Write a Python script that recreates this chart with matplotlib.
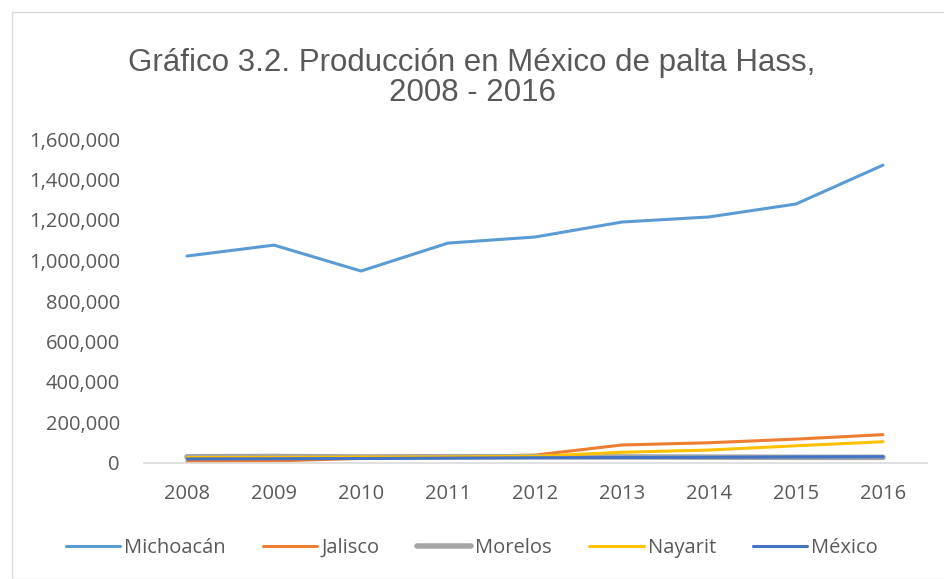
import matplotlib
matplotlib.use("Agg")
import matplotlib.pyplot as plt
from matplotlib.ticker import FuncFormatter
from matplotlib.patches import Rectangle

years = ["2008", "2009", "2010", "2011", "2012", "2013", "2014", "2015", "2016"]
michoacan = [1022000, 1076000, 948000, 1086000, 1116000, 1190000, 1215000, 1279000, 1471000]
jalisco = [7000, 10000, 23000, 31000, 39000, 89000, 100000, 118000, 140000]
morelos = [31000, 32000, 30000, 31000, 31000, 30000, 29000, 28000, 28000]
nayarit = [27000, 28000, 29000, 30000, 33000, 53000, 64000, 85000, 105000]
mexico = [20000, 21000, 22000, 24000, 26000, 27000, 28000, 30000, 31000]

series = [
    ("Michoacán", michoacan, "#5B9BD5", 2.2),
    ("Jalisco", jalisco, "#ED7D31", 2.2),
    ("Morelos", morelos, "#A5A5A5", 4.0),
    ("Nayarit", nayarit, "#FFC000", 2.2),
    ("México", mexico, "#4472C4", 2.2),
]

fig = plt.figure(figsize=(9.44, 5.79), dpi=100)
fig.patches.append(Rectangle((12/944, 0), 1, 1 - 12/579, transform=fig.transFigure,
                             fill=False, edgecolor="#D9D9D9", linewidth=1.0))
ax = fig.add_axes([143.5/944, 1 - 463/579, (926.5 - 143.5)/944, (463 - 139)/579])

x = list(range(len(years)))
for name, vals, col, lw in series:
    ax.plot(x, vals, color=col, linewidth=lw, label=name, solid_capstyle="round")

ax.set_xlim(-0.5, len(years) - 0.5)
ax.set_ylim(0, 1600000)
ax.set_yticks(range(0, 1600001, 200000))
ax.yaxis.set_major_formatter(FuncFormatter(lambda v, p: f"{int(v):,}"))
ax.set_xticks(x)
ax.set_xticklabels(years)
for s in ["top", "right", "left"]:
    ax.spines[s].set_visible(False)
ax.spines["bottom"].set_color("#D9D9D9")
ax.spines["bottom"].set_linewidth(1.2)
ax.tick_params(axis="both", length=0, labelsize=14.5, labelcolor="#595959")
ax.tick_params(axis="y", pad=17)
ax.tick_params(axis="x", pad=15)
for lab in ax.get_xticklabels() + ax.get_yticklabels():
    lab.set_family("Open Sans")

fig.text(0.5, 1 - 78/579, "Gráfico 3.2. Producción en México de palta Hass,\n2008 - 2016",
         ha="center", va="center", fontsize=22.5, color="#595959",
         family="Liberation Sans", linespacing=1.0)

leg = fig.legend(loc="center", bbox_to_anchor=(0.5, 1 - 548/579), ncol=5, frameon=False,
                 prop={"family": "Open Sans", "size": 14.5}, handlelength=2.7,
                 columnspacing=1.85, handletextpad=0.2)
for t in leg.get_texts():
    t.set_color("#595959")

fig.savefig("out.png", dpi=100, facecolor="white")
